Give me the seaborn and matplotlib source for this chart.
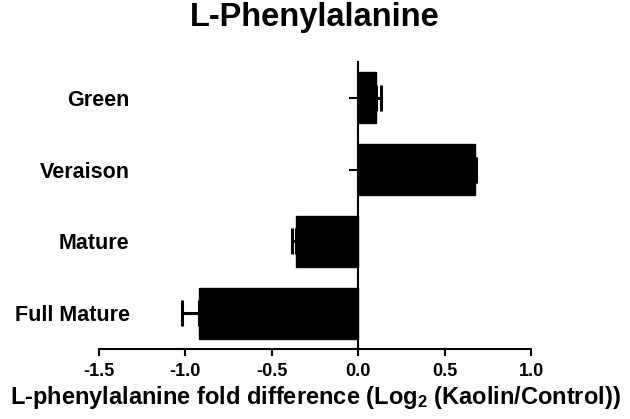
import matplotlib
matplotlib.use('Agg')
import matplotlib.pyplot as plt
import seaborn as sns
import pandas as pd

# ripening stages, log2 fold change (Kaolin/Control) and error
stages = ['Green', 'Veraison', 'Mature', 'Full Mature']
fold_change = [0.102, 0.675, -0.36, -0.92]
sem = [0.03, 0.008, 0.024, 0.10]
x_ticks = [-1.5, -1.0, -0.5, 0.0, 0.5, 1.0]

sns.set_theme(style='ticks')
plt.rcParams['font.family'] = ['Liberation Sans', 'DejaVu Sans']
plt.rcParams['font.weight'] = 'bold'
plt.rcParams['text.color'] = 'black'
plt.rcParams['axes.labelcolor'] = 'black'
plt.rcParams['mathtext.fontset'] = 'custom'
plt.rcParams['mathtext.rm'] = 'Liberation Sans:bold'
plt.rcParams['mathtext.it'] = 'Liberation Sans:bold'
plt.rcParams['mathtext.bf'] = 'Liberation Sans:bold'

fig = plt.figure(figsize=(6.3, 4.19), dpi=100)
ax = fig.add_axes([99 / 630, 70 / 419, 432 / 630, 287 / 419])

df = pd.DataFrame({'stage': stages, 'fold': fold_change})
sns.barplot(data=df, x='fold', y='stage', color='black', saturation=1,
            width=0.71, edgecolor='black', errorbar=None, ax=ax)

# one-sided error bars pointing away from zero
lo = [e if v < 0 else 0 for v, e in zip(fold_change, sem)]
hi = [e if v > 0 else 0 for v, e in zip(fold_change, sem)]
ax.errorbar(fold_change, range(len(stages)), xerr=[lo, hi], fmt='none',
            ecolor='black', elinewidth=2.2, capsize=9.5, capthick=2.2)

ax.set_xlim(-1.5, 1.0)
ax.set_ylim(3.5, -0.5)
ax.set_xticks(x_ticks)
ax.set_xticklabels([f'{t:.1f}' for t in x_ticks])

sns.despine(ax=ax)
ax.spines['left'].set_position(('data', 0))
for s in ['left', 'bottom']:
    ax.spines[s].set_linewidth(1.5)
    ax.spines[s].set_color('black')

ax.tick_params(axis='x', length=5, width=1.5, pad=5, labelsize=13, colors='black')
ax.tick_params(axis='y', length=6.5, width=1.5, pad=158, labelsize=15.5, colors='black')
for lab in ax.get_xticklabels() + ax.get_yticklabels():
    lab.set_fontweight('bold')

ax.set_title('L-Phenylalanine', fontsize=23.5, fontweight='bold', pad=26, color='black')
ax.set_xlabel(r'L-phenylalanine fold difference (Log$_2$ (Kaolin/Control))',
              fontsize=17, fontweight='bold', labelpad=3)
ax.set_ylabel('')

fig.savefig('out.png', dpi=100)
